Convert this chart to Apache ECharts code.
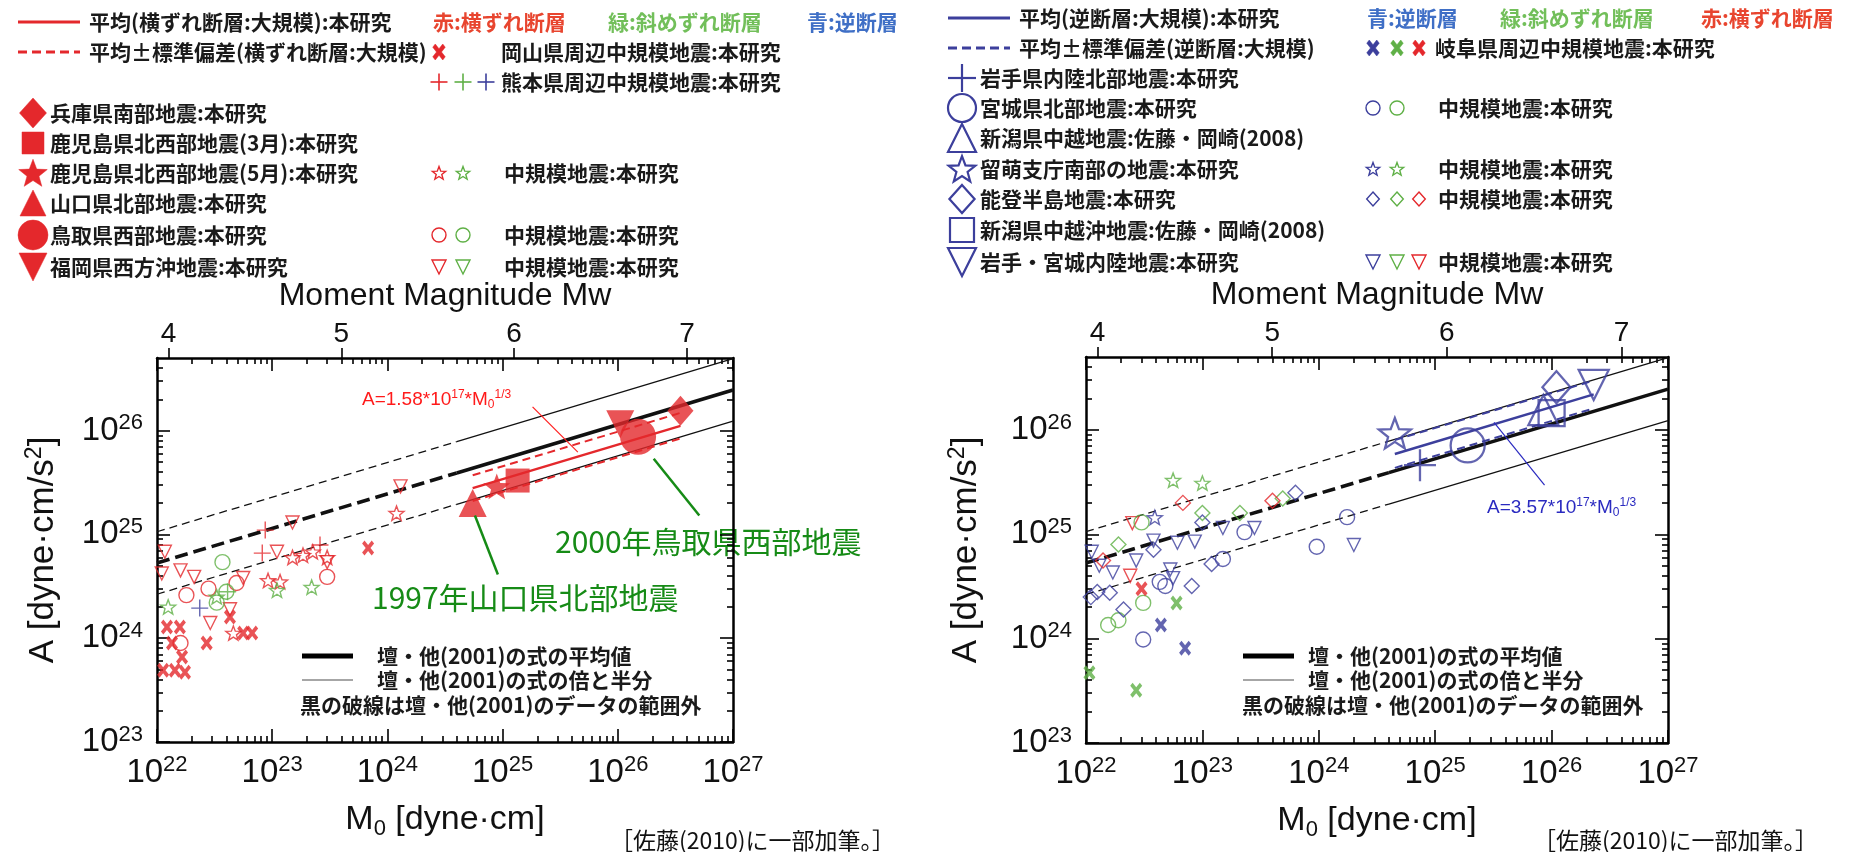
<!DOCTYPE html>
<html lang="ja">
<head>
<meta charset="utf-8">
<title>地震モーメントと加速度震源スペクトルレベル</title>
<script src="https://cdn.jsdelivr.net/npm/echarts@6.0.0/dist/echarts.min.js"></script>
<style>
  html, body { margin: 0; padding: 0; background: #fff; }
  #chart { width: 1856px; height: 852px; }
</style>
</head>
<body>
<div id="chart"></div>
<script>
// ---- 軸の目盛 ----
const m0Decades = [1e22, 1e23, 1e24, 1e25, 1e26, 1e27];
const aDecades = [1e23, 1e24, 1e25, 1e26];
const mwTicks = [4, 5, 6, 7];

// ---- 壇・他(2001) 平均値と倍・半分 (Out = データ範囲外で破線) ----
const danMeanOut = [[1e22, 5.30e24], [4e24, 3.90e25]];
const danMeanIn = [[4e24, 3.90e25], [1e27, 2.46e26]];
const danUpperOut = [[1e22, 1.06e25], [4e24, 7.81e25]];
const danUpperIn = [[4e24, 7.81e25], [1e27, 4.92e26]];
const danLowerOut = [[1e22, 2.65e24], [4e24, 1.95e25]];
const danLowerIn = [[4e24, 1.95e25], [1e27, 1.23e26]];

// ---- 左：横ずれ断層 ----
const ssMean = [[5.5e24, 2.79e25], [3.5e26, 1.11e26]];
const ssPlusSd = [[5.5e24, 3.71e25], [3.5e26, 1.48e26]];
const ssMinusSd = [[5.5e24, 2.10e25], [3.5e26, 8.4e25]];

const lHyogo = [[3.5e26, 1.55e26]];
const lKagoshimaMar = [[1.35e25, 3.3e25]];
const lKagoshimaMay = [[8.9e24, 2.9e25]];
const lYamaguchi = [[5.5e24, 2.0e25]];
const lTottori = [[1.5e26, 8.7e25]];
const lFukuoka = [[1.05e26, 1.15e26]];

const lOkayamaX = [[1.22e22, 1.28e24], [1.58e22, 1.28e24], [1.35e22, 9.0e23], [1.65e22, 6.6e23],
  [1.13e22, 4.9e23], [1.43e22, 4.9e23], [1.75e22, 4.7e23], [2.7e22, 9.0e23], [5.6e22, 1.12e24],
  [6.7e22, 1.12e24], [6.8e23, 7.4e24], [4.3e22, 1.6e24]];
const lKumamotoRed = [[8.2e22, 6.6e24], [8.7e22, 1.1e25], [2.6e23, 7.9e24]];
const lKumamotoGreen = [[4.1e22, 2.8e24]];
const lKumamotoBlue = [[2.35e22, 1.95e24]];
const lStarRed = [[1.2e24, 1.6e25], [9.2e22, 3.6e24], [1.17e23, 3.5e24], [1.5e23, 6.0e24],
  [1.85e23, 6.3e24], [2.25e23, 6.8e24], [4.6e22, 1.12e24], [3.0e23, 6.0e24]];
const lStarGreen = [[2.2e23, 3.1e24], [1.1e23, 2.9e24], [1.25e22, 2.0e24], [3.3e22, 2.5e24]];
const lCircleRed = [[1.8e22, 2.6e24], [3.0e23, 3.9e24], [2.8e22, 3.0e24], [1.6e22, 9.0e23], [4.9e22, 3.4e24]];
const lCircleGreen = [[3.7e22, 5.4e24], [3.3e22, 2.2e24], [4.0e22, 2.8e24]];
const lTriRed = [[1.17e22, 6.8e24], [1.1e22, 4.2e24], [1.6e22, 4.5e24], [2.1e22, 3.9e24], [1.5e23, 1.3e25],
  [1.1e23, 6.8e24], [1.3e24, 2.9e25], [5.6e22, 3.8e24], [2.9e22, 1.4e24], [3.0e23, 5.4e24], [4.3e22, 1.9e24]];

// 注記の矢印・引出線 (データ座標)
const arrowYamaguchi = [[9.1e24, 4.1e24], [5.75e24, 1.52e25]];
const arrowTottori = [[5.1e26, 1.52e25], [2.05e26, 5.35e25]];
const leaderRed = [[1.82e25, 1.69e26], [4.5e25, 6.2e25]];

// ---- 右：逆断層 ----
const rvMean = [[4.5e24, 5.89e25], [2.3e26, 2.19e26]];
const rvPlusSd = [[4.5e24, 8.01e25], [2.3e26, 2.97e26]];
const rvMinusSd = [[4.5e24, 4.33e25], [2.3e26, 1.61e26]];

const rIwateNorth = [[7.4e24, 4.6e25]];
const rMiyagiNorth = [[1.9e25, 7.1e25]];
const rChuetsu = [[8.5e25, 1.55e26]];
const rRumoi = [[4.5e24, 9.3e25]];
const rNoto = [[1.1e26, 2.57e26]];
const rChuetsuOki = [[1.0e26, 1.45e26]];
const rIwateMiyagi = [[2.3e26, 2.7e26]];

const rGifuBlue = [[4.4e22, 1.35e24], [7.1e22, 8.1e23]];
const rGifuGreen = [[6.0e22, 2.2e24], [1.07e22, 4.7e23], [2.7e22, 3.2e23]];
const rGifuRed = [[3.0e22, 3.0e24]];
const rCircleBlue = [[1.75e24, 1.46e25], [9.6e23, 7.6e24], [2.3e23, 1.05e25], [1.5e23, 5.8e24],
  [4.3e22, 3.5e24], [3.1e22, 9.8e23], [4.8e22, 3.2e24]];
const rCircleGreen = [[3.0e22, 1.3e25], [3.1e22, 2.2e24], [1.55e22, 1.35e24], [1.9e22, 1.5e24]];
const rStarBlue = [[3.9e22, 1.45e25]];
const rStarGreen = [[5.6e22, 3.3e25], [1.0e23, 3.1e25]];
const rDiamondBlue = [[6.3e23, 2.5e25], [1.0e23, 1.3e25], [8.1e22, 3.2e24], [2.1e22, 1.9e24],
  [1.6e22, 2.75e24], [1.25e22, 2.8e24], [1.1e22, 2.5e24], [1.2e23, 5.2e24], [3.8e22, 7.1e24]];
const rDiamondGreen = [[1.0e23, 1.6e25], [2.1e23, 1.6e25], [1.9e22, 8.0e24], [4.9e23, 2.2e25]];
const rDiamondRed = [[6.8e22, 2.0e25], [4.0e23, 2.1e25], [1.4e22, 5.6e24]];
const rTriBlue = [[1.5e23, 1.15e25], [2.8e23, 1.15e25], [6.1e22, 8.3e24], [8.6e22, 8.5e24], [2.0e24, 7.9e24],
  [1.7e22, 4.3e24], [5.3e22, 4.6e24], [3.8e22, 8.7e24], [2.7e22, 5.6e24], [1.3e22, 5.0e24],
  [5.6e22, 3.8e24], [1.12e22, 6.8e24]];
const rTriRed = [[2.5e22, 1.28e25], [2.4e22, 4.0e24]];

const leaderBlue = [[8.7e25, 2.96e25], [3.2e25, 1.18e26]];

// ---- 色・フォント ----
const RED = '#e4282c', GREEN = '#5fb046', BLUE = '#3c3f9c';
const ANNOT = '#168b16';
const LATIN = '"Liberation Sans", Arial, sans-serif';
const JP = '"Noto Sans CJK JP", sans-serif';

function starPts(cx, cy, r) {
  const out = [];
  for (let i = 0; i < 10; i++) {
    const rr = i % 2 ? r * 0.42 : r;
    const a = -Math.PI / 2 + i * Math.PI / 5;
    out.push([cx + rr * Math.cos(a), cy + rr * Math.sin(a)]);
  }
  return out;
}
const X_PTS = [[0, 20], [20, 0], [50, 30], [80, 0], [100, 20], [70, 50], [100, 80], [80, 100], [50, 70], [20, 100], [0, 80], [30, 50]];
const SYM_STAR = 'path://' + starPts(50, 50, 50).map((p, i) => (i ? 'L' : 'M') + p[0].toFixed(1) + ',' + p[1].toFixed(1)).join(' ') + ' Z';
const SYM_X = 'path://' + X_PTS.map((p, i) => (i ? 'L' : 'M') + p[0] + ',' + p[1]).join(' ') + ' Z';
const SYM_PLUS = 'path://M0,50 L100,50 M50,0 L50,100';

function minorsOf(lo, hi) {
  const out = [];
  for (let d = Math.round(Math.log10(lo)); d < Math.log10(hi); d++) {
    for (let m = 2; m <= 9; m++) {
      const v = m * Math.pow(10, d);
      if (v > lo && v < hi) out.push(v);
    }
  }
  return out;
}
// 端の目盛が範囲外で落ちないよう、わずかに内側へ寄せる
const inside = (arr, lo, hi) => arr.map(v => Math.min(Math.max(v, lo * 1.000001), hi * 0.999999));
const m0Major = inside(m0Decades, 1e22, 1e27);
const aMajor = inside(aDecades, 1e23, 5e26);
const m0Minor = minorsOf(1e22, 1e27);
const aMinor = minorsOf(1e23, 5e26);
const mwPos = mwTicks.map(mw => Math.pow(10, 1.5 * mw + 16.1));

const powRich = {
  b: { fontSize: 33, fontFamily: LATIN, color: '#111', lineHeight: 37 },
  s: { fontSize: 22, fontFamily: LATIN, color: '#111', lineHeight: 22, verticalAlign: 'top' }
};
function powLabel(v) {
  return '{b|10}{s|' + Math.round(Math.log10(v)) + '}';
}
const tickLine = { color: '#000', width: 1.6 };
const frameLine = { show: true, lineStyle: { color: '#000', width: 2.5 } };

// 1パネル分の x 軸 (下:主目盛, 下:補助, 上:主目盛, 上:補助, 上:Mw)
function panelX(g) {
  const base = { type: 'log', logBase: 10, gridIndex: g, min: 1e22, max: 1e27, splitLine: { show: false }, silent: true };
  return [
    Object.assign({}, base, {
      position: 'bottom', axisLine: frameLine,
      name: '{t|M}{u|0}{t| [dyne·cm]}', nameLocation: 'middle', nameGap: 58,
      nameTextStyle: { rich: {
        t: { fontSize: 34, fontFamily: LATIN, color: '#111', lineHeight: 40 },
        u: { fontSize: 22, fontFamily: LATIN, color: '#111', lineHeight: 14, verticalAlign: 'bottom' } } },
      axisTick: { show: true, inside: true, length: 13, customValues: m0Major, lineStyle: tickLine },
      axisLabel: { show: true, customValues: m0Major, margin: 12, formatter: powLabel, rich: powRich }
    }),
    Object.assign({}, base, {
      position: 'bottom', axisLine: { show: false },
      axisTick: { show: true, inside: true, length: 6, customValues: m0Minor, lineStyle: tickLine },
      axisLabel: { show: false }
    }),
    Object.assign({}, base, {
      position: 'top', axisLine: frameLine,
      axisTick: { show: true, inside: true, length: 13, customValues: m0Major, lineStyle: tickLine },
      axisLabel: { show: false }
    }),
    Object.assign({}, base, {
      position: 'top', axisLine: { show: false },
      axisTick: { show: true, inside: true, length: 6, customValues: m0Minor, lineStyle: tickLine },
      axisLabel: { show: false }
    }),
    Object.assign({}, base, {
      position: 'top', axisLine: { show: false },
      name: 'Moment Magnitude Mw', nameLocation: 'middle', nameGap: 46,
      nameTextStyle: { fontSize: 32, fontFamily: LATIN, color: '#111' },
      axisTick: { show: true, inside: false, length: 10, customValues: mwPos, lineStyle: tickLine },
      axisLabel: { show: true, customValues: mwPos, margin: 10, fontSize: 28, fontFamily: LATIN, color: '#111',
        formatter: v => String(Math.round((Math.log10(v) - 16.1) / 1.5)) }
    })
  ];
}

// 1パネル分の y 軸 (左:主目盛, 左:補助, 右:主目盛, 右:補助)
function panelY(g, gap) {
  const base = { type: 'log', logBase: 10, gridIndex: g, min: 1e23, max: 5e26, splitLine: { show: false }, silent: true };
  return [
    Object.assign({}, base, {
      position: 'left', axisLine: frameLine,
      name: '{t|A [dyne·cm/s}{p|2}{t|]}', nameLocation: 'middle', nameRotate: 90, nameGap: gap,
      nameTextStyle: { rich: {
        t: { fontSize: 35, fontFamily: LATIN, color: '#111', lineHeight: 40 },
        p: { fontSize: 23, fontFamily: LATIN, color: '#111', lineHeight: 22, verticalAlign: 'top' } } },
      axisTick: { show: true, inside: true, length: 13, customValues: aMajor, lineStyle: tickLine },
      axisLabel: { show: true, customValues: aMajor, margin: 14, formatter: powLabel, rich: powRich }
    }),
    Object.assign({}, base, {
      position: 'left', axisLine: { show: false },
      axisTick: { show: true, inside: true, length: 6, customValues: aMinor, lineStyle: tickLine },
      axisLabel: { show: false }
    }),
    Object.assign({}, base, {
      position: 'right', axisLine: frameLine,
      axisTick: { show: true, inside: true, length: 13, customValues: aMajor, lineStyle: tickLine },
      axisLabel: { show: false }
    }),
    Object.assign({}, base, {
      position: 'right', axisLine: { show: false },
      axisTick: { show: true, inside: true, length: 6, customValues: aMinor, lineStyle: tickLine },
      axisLabel: { show: false }
    })
  ];
}

function seg(p, data, color, width, type, z) {
  return { type: 'line', data: data, xAxisIndex: p * 5, yAxisIndex: p * 4, symbol: 'none', silent: true,
    z: z || 2, lineStyle: { color: color, width: width, type: type || 'solid' } };
}
function pts(p, data, symbol, color, size, border, extra) {
  const s = { type: 'scatter', data: data, symbol: symbol, symbolSize: size, xAxisIndex: p * 5, yAxisIndex: p * 4,
    silent: true, z: 4,
    itemStyle: border ? { color: 'transparent', borderColor: color, borderWidth: border } : { color: color } };
  return Object.assign(s, extra || {});
}
function arrowLine(pair, color, width, arrow) {
  return { silent: true, symbol: arrow ? ['none', 'arrow'] : 'none', symbolSize: arrow ? [0, 17] : 0,
    label: { show: false }, lineStyle: { color: color, width: width, type: 'solid' },
    data: [[{ coord: pair[0] }, { coord: pair[1] }]] };
}

function danLines(p) {
  return [
    seg(p, danUpperOut, '#111', 1.3, [8, 5]), seg(p, danUpperIn, '#111', 1.3),
    seg(p, danLowerOut, '#111', 1.3, [8, 5]), seg(p, danLowerIn, '#111', 1.3),
    seg(p, danMeanOut, '#111', 3.6, [13, 6]), seg(p, danMeanIn, '#111', 3.6)
  ];
}

const STAR_X = { symbolKeepAspect: true };
const INV = { symbolRotate: 180 };
const XSIZE = [12, 15];

const series = [].concat(
  danLines(0),
  [
    seg(0, ssPlusSd, RED, 2, [8, 5], 3),
    seg(0, ssMinusSd, RED, 2, [8, 5], 3),
    Object.assign(seg(0, ssMean, RED, 2.5, 'solid', 3), { markLine: arrowLine(leaderRed, '#ff2020', 1.2, false) }),
    pts(0, lTriRed, 'triangle', RED, 13, 1.4, INV),
    pts(0, lCircleRed, 'circle', RED, 15, 1.4),
    pts(0, lCircleGreen, 'circle', GREEN, 15, 1.4),
    pts(0, lStarRed, SYM_STAR, RED, 15, 1.4, STAR_X),
    pts(0, lStarGreen, SYM_STAR, GREEN, 15, 1.4, STAR_X),
    pts(0, lKumamotoRed, SYM_PLUS, RED, 17, 1.4),
    pts(0, lKumamotoGreen, SYM_PLUS, GREEN, 17, 1.4),
    pts(0, lKumamotoBlue, SYM_PLUS, BLUE, 17, 1.4),
    pts(0, lOkayamaX, SYM_X, RED, XSIZE, 0),
    pts(0, lFukuoka, 'triangle', RED, 28, 0, INV),
    pts(0, lTottori, 'circle', RED, 36, 0, { markLine: arrowLine(arrowTottori, ANNOT, 2.5, true) }),
    pts(0, lYamaguchi, 'triangle', RED, 28, 0, { markLine: arrowLine(arrowYamaguchi, ANNOT, 2.5, true) }),
    pts(0, lKagoshimaMay, SYM_STAR, RED, 27, 0, STAR_X),
    pts(0, lKagoshimaMar, 'rect', RED, 24, 0),
    pts(0, lHyogo, 'diamond', RED, [26, 30], 0)
  ],
  danLines(1),
  [
    seg(1, rvPlusSd, BLUE, 2, [8, 5], 3),
    seg(1, rvMinusSd, BLUE, 2, [8, 5], 3),
    Object.assign(seg(1, rvMean, BLUE, 2.5, 'solid', 3), { markLine: arrowLine(leaderBlue, '#2a2ac0', 1.2, false) }),
    pts(1, rTriBlue, 'triangle', BLUE, 13, 1.4, INV),
    pts(1, rTriRed, 'triangle', RED, 13, 1.4, INV),
    pts(1, rCircleBlue, 'circle', BLUE, 15, 1.4),
    pts(1, rCircleGreen, 'circle', GREEN, 15, 1.4),
    pts(1, rDiamondBlue, 'diamond', BLUE, 15, 1.4),
    pts(1, rDiamondGreen, 'diamond', GREEN, 15, 1.4),
    pts(1, rDiamondRed, 'diamond', RED, 15, 1.4),
    pts(1, rStarBlue, SYM_STAR, BLUE, 15, 1.4, STAR_X),
    pts(1, rStarGreen, SYM_STAR, GREEN, 15, 1.4, STAR_X),
    pts(1, rGifuBlue, SYM_X, BLUE, XSIZE, 0),
    pts(1, rGifuGreen, SYM_X, GREEN, XSIZE, 0),
    pts(1, rGifuRed, SYM_X, RED, XSIZE, 0),
    pts(1, rRumoi, SYM_STAR, BLUE, 32, 2.3, STAR_X),
    pts(1, rIwateNorth, SYM_PLUS, BLUE, 32, 2.3),
    pts(1, rMiyagiNorth, 'circle', BLUE, 34, 2.3),
    pts(1, rChuetsu, 'triangle', BLUE, 30, 2.3),
    pts(1, rChuetsuOki, 'rect', BLUE, 26, 2.3),
    pts(1, rNoto, 'diamond', BLUE, [28, 32], 2.3),
    pts(1, rIwateMiyagi, 'triangle', BLUE, 30, 2.3, INV)
  ]
);

// ---- graphic：凡例・注記 ----
function txt(x, y, text, fill, font, align) {
  return { type: 'text', x: x, y: y, silent: true,
    style: { text: text, fill: fill || '#1a1a1a', font: font || 'bold 21px ' + JP,
      align: align || 'left', verticalAlign: 'middle', textAlign: align || 'left', textVerticalAlign: 'middle' } };
}
function gm(kind, x, y, s, color, lw) {
  const st = lw ? { fill: 'none', stroke: color, lineWidth: lw } : { fill: color, stroke: color, lineWidth: 0.5 };
  const h = s / 2;
  if (kind === 'circle') return { type: 'circle', silent: true, shape: { cx: x, cy: y, r: h }, style: st };
  if (kind === 'rect') return { type: 'rect', silent: true, shape: { x: x - h, y: y - h, width: s, height: s }, style: st };
  if (kind === 'plus') {
    return { type: 'group', silent: true, children: [
      { type: 'line', silent: true, shape: { x1: x - h, y1: y, x2: x + h, y2: y }, style: { stroke: color, lineWidth: lw } },
      { type: 'line', silent: true, shape: { x1: x, y1: y - h, x2: x, y2: y + h }, style: { stroke: color, lineWidth: lw } }] };
  }
  let p;
  if (kind === 'tri') p = [[x, y - h], [x + h, y + h], [x - h, y + h]];
  else if (kind === 'itri') p = [[x - h, y - h], [x + h, y - h], [x, y + h]];
  else if (kind === 'diamond') p = [[x, y - h], [x + h * 0.9, y], [x, y + h], [x - h * 0.9, y]];
  else if (kind === 'star') p = starPts(x, y + s * 0.04, h);
  else p = X_PTS.map(q => [x + (q[0] - 50) / 100 * s * 0.78, y + (q[1] - 50) / 100 * s]);
  return { type: 'polygon', silent: true, shape: { points: p }, style: st };
}
function hline(x1, x2, y, color, w, dash) {
  return { type: 'line', silent: true, shape: { x1: x1, y1: y, x2: x2, y2: y },
    style: { stroke: color, lineWidth: w, lineDash: dash || null } };
}

const graphic = [];
// 左上の凡例
(function () {
  const r = [22, 52, 82, 113, 143, 173, 203, 235, 267];
  graphic.push(hline(18, 80, r[0], RED, 3), txt(89, r[0], '平均(横ずれ断層:大規模):本研究'));
  graphic.push(txt(433, r[0], '赤:横ずれ断層', '#e8452f'), txt(608, r[0], '緑:斜めずれ断層', '#72bf5a'), txt(807, r[0], '青:逆断層', '#3f6fc6'));
  graphic.push(hline(18, 80, r[1], RED, 3, [9, 5]), txt(89, r[1], '平均±標準偏差(横ずれ断層:大規模)'));
  graphic.push(gm('cross', 439, r[1], 16, RED, 0), txt(501, r[1], '岡山県周辺中規模地震:本研究'));
  graphic.push(gm('plus', 439, r[2], 17, RED, 1.6), gm('plus', 463, r[2], 17, GREEN, 1.6), gm('plus', 486, r[2], 17, BLUE, 1.6));
  graphic.push(txt(501, r[2], '熊本県周辺中規模地震:本研究'));
  const big = [['diamond', '兵庫県南部地震:本研究', 30], ['rect', '鹿児島県北西部地震(3月):本研究', 22],
    ['star', '鹿児島県北西部地震(5月):本研究', 30], ['tri', '山口県北部地震:本研究', 26],
    ['circle', '鳥取県西部地震:本研究', 30], ['itri', '福岡県西方沖地震:本研究', 28]];
  big.forEach((b, i) => graphic.push(gm(b[0], 33, r[3 + i], b[2], RED, 0), txt(50, r[3 + i], b[1])));
  [['star', 5], ['circle', 7], ['itri', 8]].forEach(k => {
    graphic.push(gm(k[0], 439, r[k[1]], 14, RED, 1.4), gm(k[0], 463, r[k[1]], 14, GREEN, 1.4), txt(504, r[k[1]], '中規模地震:本研究'));
  });
})();
// 右上の凡例
(function () {
  const r = [18, 48, 78, 108, 138, 169, 199, 230, 262];
  graphic.push(hline(948, 1010, r[0], BLUE, 3), txt(1019, r[0], '平均(逆断層:大規模):本研究'));
  graphic.push(txt(1367, r[0], '青:逆断層', '#3f6fc6'), txt(1500, r[0], '緑:斜めずれ断層', '#72bf5a'), txt(1701, r[0], '赤:横ずれ断層', '#e8452f'));
  graphic.push(hline(948, 1010, r[1], BLUE, 3, [9, 5]), txt(1019, r[1], '平均±標準偏差(逆断層:大規模)'));
  graphic.push(gm('cross', 1373, r[1], 16, BLUE, 0), gm('cross', 1397, r[1], 16, GREEN, 0), gm('cross', 1419, r[1], 16, RED, 0));
  graphic.push(txt(1435, r[1], '岐阜県周辺中規模地震:本研究'));
  const big = [['plus', '岩手県内陸北部地震:本研究'], ['circle', '宮城県北部地震:本研究'],
    ['tri', '新潟県中越地震:佐藤・岡崎(2008)'], ['star', '留萌支庁南部の地震:本研究'],
    ['diamond', '能登半島地震:本研究'], ['rect', '新潟県中越沖地震:佐藤・岡崎(2008)'], ['itri', '岩手・宮城内陸地震:本研究']];
  big.forEach((b, i) => graphic.push(gm(b[0], 962, r[2 + i], b[0] === 'rect' ? 24 : 28, BLUE, 2.2), txt(980, r[2 + i], b[1])));
  [['circle', 3, 2], ['star', 5, 2], ['diamond', 6, 3], ['itri', 8, 3]].forEach(k => {
    const cols = [BLUE, GREEN, RED];
    for (let j = 0; j < k[2]; j++) graphic.push(gm(k[0], [1373, 1397, 1419][j], r[k[1]], 14, cols[j], 1.4));
    graphic.push(txt(1438, r[k[1]], '中規模地震:本研究'));
  });
})();
// プロット内の凡例 (壇・他)
[[302, 377, 300], [1243, 1308, 1242]].forEach(c => {
  graphic.push(hline(c[0], c[0] + 51, 656, '#000', 5), txt(c[1], 656, '壇・他(2001)の式の平均値'));
  graphic.push(hline(c[0], c[0] + 51, 680, '#888', 1.5), txt(c[1], 680, '壇・他(2001)の式の倍と半分'));
  graphic.push(txt(c[2], 705, '黒の破線は壇・他(2001)のデータの範囲外'));
});
// 注記
function formula(x, y, coef, color) {
  return { type: 'text', x: x, y: y, silent: true, style: {
    text: '{n|A=' + coef + '*10}{s|17}{n|*M}{u|0}{s|1/3}', align: 'left', verticalAlign: 'middle',
    rich: {
      n: { fontSize: 19, fontFamily: LATIN, fill: color, lineHeight: 22 },
      s: { fontSize: 12, fontFamily: LATIN, fill: color, lineHeight: 13, verticalAlign: 'top' },
      u: { fontSize: 12, fontFamily: LATIN, fill: color, lineHeight: 10, verticalAlign: 'bottom' } } } };
}
graphic.push(formula(362, 400, '1.58', '#ff1a1a'), formula(1487, 508, '3.57', '#2a2ac0'));
graphic.push(txt(372, 598, '1997年山口県北部地震', ANNOT, '30px ' + JP));
graphic.push(txt(555, 542, '2000年鳥取県西部地震', ANNOT, '30px ' + JP));
graphic.push(txt(610, 840, '［佐藤(2010)に一部加筆。］', '#111', '23px ' + JP));
graphic.push(txt(1533, 840, '［佐藤(2010)に一部加筆。］', '#111', '23px ' + JP));

const chart = echarts.init(document.getElementById('chart'));
chart.setOption({
  animation: false,
  backgroundColor: '#fff',
  grid: [
    { left: 157, top: 358, width: 576, height: 384, outerBoundsMode: 'none' },
    { left: 1086, top: 357, width: 582, height: 386, outerBoundsMode: 'none' }
  ],
  xAxis: panelX(0).concat(panelX(1)),
  yAxis: panelY(0, 94).concat(panelY(1, 100)),
  series: series,
  graphic: graphic
});
</script>
</body>
</html>
